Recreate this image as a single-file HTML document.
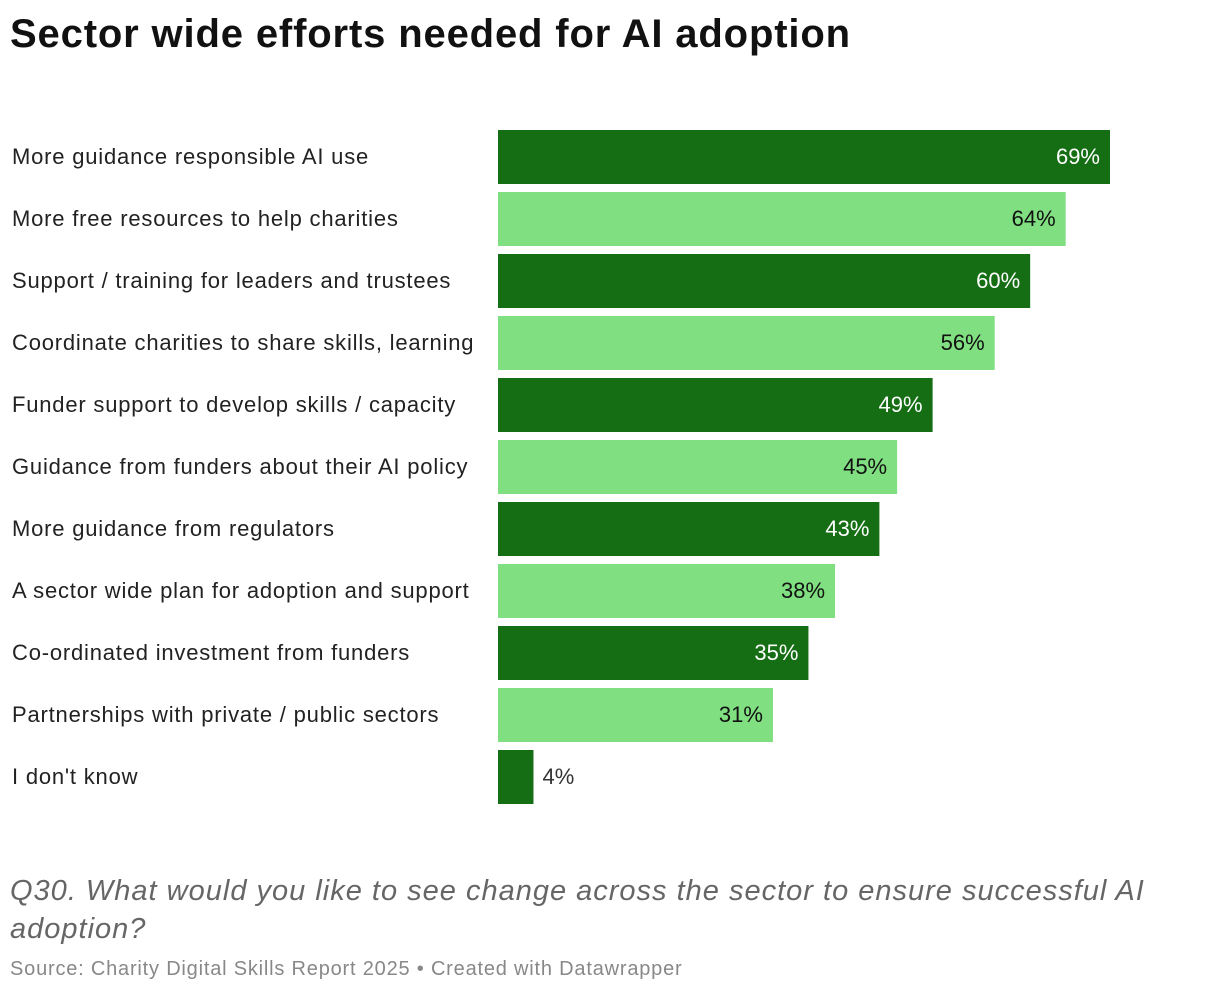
<!DOCTYPE html>
<html><head><meta charset="utf-8"><style>
body{margin:0;width:1220px;height:994px;background:#fff;font-family:"Liberation Sans",Roboto,sans-serif;position:relative;overflow:hidden}
#title{position:absolute;left:10px;top:12px;font-size:40px;font-weight:bold;color:#111;margin:0;letter-spacing:0.85px}
#q{position:absolute;left:10px;top:872px;font-size:29px;font-style:italic;color:#666;line-height:38px;width:1190px;letter-spacing:1px}
#src{position:absolute;left:10px;top:958px;font-size:20px;color:#888;letter-spacing:0.8px}
</style></head><body>
<h1 id="title">Sector wide efforts needed for AI adoption</h1>
<svg id="chart" width="1220" height="830" style="position:absolute;left:0;top:0"></svg>
<div id="q">Q30. What would you like to see change across the sector to ensure successful AI adoption?</div>
<div id="src">Source: Charity Digital Skills Report 2025 • Created with Datawrapper</div>
<script>
const categories=["More guidance responsible AI use","More free resources to help charities","Support / training for leaders and trustees","Coordinate charities to share skills, learning","Funder support to develop skills / capacity","Guidance from funders about their AI policy","More guidance from regulators","A sector wide plan for adoption and support","Co-ordinated investment from funders","Partnerships with private / public sectors","I don't know"];
const values=[69,64,60,56,49,45,43,38,35,31,4];
const valueLabels=["69%","64%","60%","56%","49%","45%","43%","38%","35%","31%","4%"];
const NS="http://www.w3.org/2000/svg";
const svg=document.getElementById('chart');
const x0=498,pxPer=612/69;
const xScale=v=>v*pxPer;
const yScale=i=>130+i*62;
const bh=54;
categories.forEach((c,i)=>{
  const y=yScale(i),w=xScale(values[i]);
  const dark=i%2===0;
  const lab=document.createElementNS(NS,'text');
  
  
  lab.setAttribute('x',12);lab.setAttribute('y',y+bh/2+7);
  lab.setAttribute('font-size','22');lab.setAttribute('fill','#222');
  lab.setAttribute('letter-spacing','0.8');
  lab.textContent=c;svg.appendChild(lab);
  const r=document.createElementNS(NS,'rect');
  
  
  r.setAttribute('x',x0);r.setAttribute('y',y);r.setAttribute('width',w);r.setAttribute('height',bh);
  r.setAttribute('fill',dark?'#156e14':'#80df80');svg.appendChild(r);
  const t=document.createElementNS(NS,'text');
  
  
  const inside=w>60;
  t.setAttribute('x',inside?x0+w-10:x0+w+9);
  t.setAttribute('text-anchor',inside?'end':'start');
  t.setAttribute('y',y+bh/2+7);t.setAttribute('font-size','22');
  t.setAttribute('fill',inside?(dark?'#fff':'#111'):'#333');
  t.textContent=valueLabels[i];svg.appendChild(t);
});
</script>
</body></html>
